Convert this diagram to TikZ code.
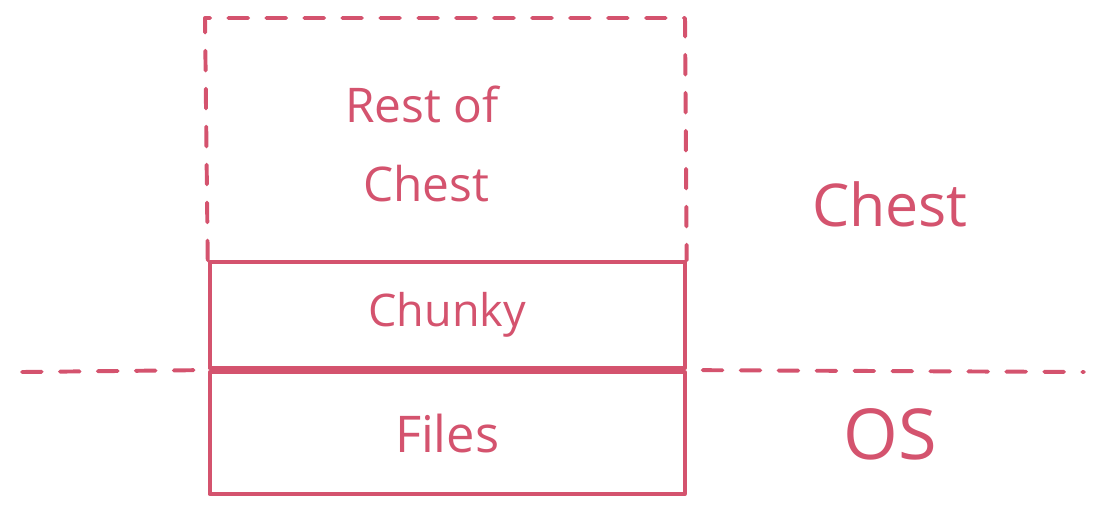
\documentclass[tikz,border=0pt]{standalone}
\usepackage{fontspec}
\setmainfont{Open Sans}
\usetikzlibrary{positioning}

\definecolor{sketch}{RGB}{212,83,110}

\tikzset{
    pen/.style={draw=sketch, line width=2.8pt, line cap=round, line join=round},
    dashpen/.style={pen, dash pattern=on 14pt off 13pt},
    layer/.style={pen, rectangle, minimum width=11.875cm, inner sep=0pt, text=sketch},
    label/.style={text=sketch, inner sep=0pt}
}

\begin{document}
\begin{tikzpicture}

    \useasboundingbox (0,0) rectangle (27.6,-12.9);

    % Stacked layers
    \node[layer, minimum height=2.65cm, font=\fontsize{32}{36}\selectfont] (chunky) at (11.18,-7.88) {Chunky};
    \node[layer, minimum height=3.05cm, below=0pt of chunky, font=\fontsize{36}{40}\selectfont] (files) {Files};

    % Rest of the chest (dashed)
    \coordinate (topleft) at (5.125,-0.45);
    \coordinate (topright) at (17.125,-0.45);
    \draw[dashpen] (chunky.north west) -- (topleft) -- (topright) -- (chunky.north east);
    \node[label, font=\fontsize{34}{38}\selectfont] (rest) at (10.55,-2.6) {Rest of};
    \node[label, font=\fontsize{34}{38}\selectfont] (restchest) at (10.65,-4.6) {Chest};

    % Boundary between Chest and OS
    \coordinate (lineleft) at (0.55,-9.3);
    \coordinate (lineright) at (27.1,-9.3);
    \draw[dashpen] (lineleft) -- ([xshift=-0.3cm]files.north west);
    \draw[dashpen] ([xshift=0.4cm]files.north east) -- (lineright);

    % Side labels
    \node[label, font=\fontsize{42}{46}\selectfont] (chest) at (22.25,-5.1) {Chest};
    \node[label, font=\fontsize{50}{54}\selectfont] (os) at (22.25,-10.85) {OS};

\end{tikzpicture}
\end{document}
